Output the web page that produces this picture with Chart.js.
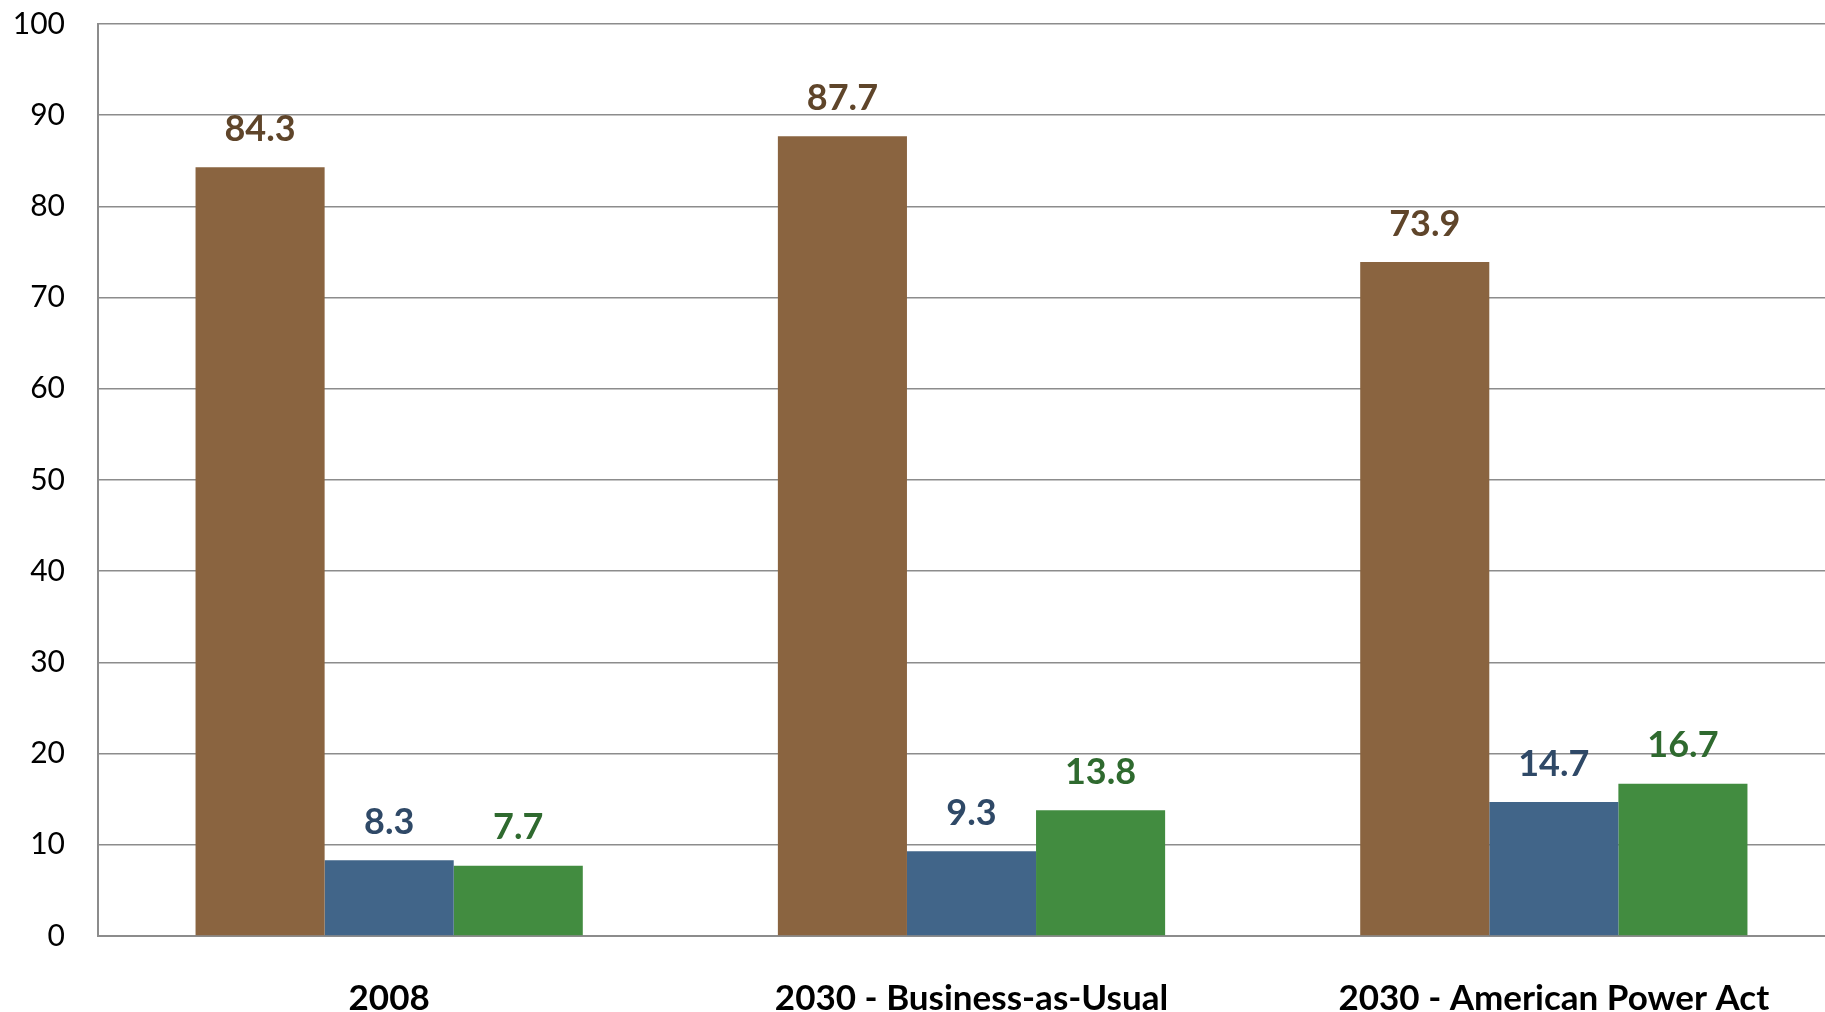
<!DOCTYPE html>
<html>
<head>
<meta charset="utf-8">
<script src="https://cdn.jsdelivr.net/npm/chart.js@4/dist/chart.umd.min.js"></script>
<style>
  html, body { margin: 0; padding: 0; background: #fff; overflow: hidden; }
  #wrap { width: 1845px; height: 1012px; }
</style>
</head>
<body>
<div id="wrap"><canvas id="chart" width="1845" height="1012"></canvas></div>
<script>
// --- DATA ---
const categories = ['2008', '2030 - Business-as-Usual', '2030 - American Power Act'];
const fossilValues = [84.3, 87.7, 73.9];
const nuclearValues = [8.3, 9.3, 14.7];
const renewableValues = [7.7, 13.8, 16.7];
const yTicks = [0, 10, 20, 30, 40, 50, 60, 70, 80, 90, 100];

const barColors = ['#8a6440', '#416589', '#428c40'];
const labelColors = ['#5f452a', '#2f4967', '#2f6a2f'];

// simple value labels above each bar
const valueLabels = {
    id: 'valueLabels',
    afterDatasetsDraw(chart) {
        const ctx = chart.ctx;
        ctx.save();
        ctx.font = 'bold 36px Lato, "Open Sans", sans-serif';
        ctx.textAlign = 'center';
        ctx.textBaseline = 'bottom';
        chart.data.datasets.forEach((ds, i) => {
            const meta = chart.getDatasetMeta(i);
            ctx.fillStyle = labelColors[i];
            meta.data.forEach((bar, j) => {
                ctx.fillText(ds.data[j].toFixed(1), bar.x, bar.y - 20);
            });
        });
        ctx.restore();
    }
};

new Chart(document.getElementById('chart').getContext('2d'), {
    type: 'bar',
    data: {
        labels: categories,
        datasets: [
            { label: 'Fossil', data: fossilValues, backgroundColor: barColors[0] },
            { label: 'Nuclear', data: nuclearValues, backgroundColor: barColors[1] },
            { label: 'Renewable', data: renewableValues, backgroundColor: barColors[2] }
        ]
    },
    options: {
        responsive: false,
        animation: false,
        datasets: { bar: { categoryPercentage: 0.665, barPercentage: 1.0 } },
        layout: { padding: { top: 24, right: 0, left: 0, bottom: 0 } },
        plugins: { legend: { display: false }, tooltip: { enabled: false } },
        scales: {
            x: {
                grid: { display: false, drawTicks: false },
                border: { display: true, color: '#8c8c8c', width: 2 },
                ticks: {
                    color: '#000',
                    padding: 42,
                    font: { family: 'Lato, "Open Sans", sans-serif', size: 35, weight: 'bold' }
                },
                afterFit: (scale) => {
                    scale.height = 76;
                    scale.paddingLeft = 0;
                    scale.paddingRight = 0;
                }
            },
            y: {
                min: 0,
                max: 100,
                afterBuildTicks: (scale) => { scale.ticks = yTicks.map(v => ({ value: v })); },
                grid: { color: '#8c8c8c', lineWidth: 1.6, drawTicks: false },
                border: { display: true, color: '#8c8c8c', width: 2 },
                ticks: {
                    color: '#000',
                    padding: 33,
                    font: { family: 'Lato, "Open Sans", sans-serif', size: 30 }
                },
                afterFit: (scale) => {
                    scale.width = 98;
                    scale.paddingTop = 0;
                    scale.paddingBottom = 0;
                }
            }
        }
    },
    plugins: [valueLabels]
});
</script>
</body>
</html>
